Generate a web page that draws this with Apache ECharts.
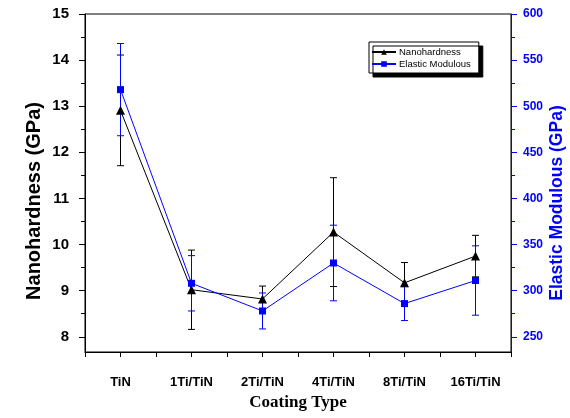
<!DOCTYPE html>
<html>
<head>
<meta charset="utf-8">
<script src="https://cdn.jsdelivr.net/npm/echarts@6/dist/echarts.min.js"></script>
<style>
  html, body { margin: 0; padding: 0; background: #fff; }
  #chart { width: 570px; height: 418px; }
</style>
</head>
<body>
<div id="chart"></div>
<script>
// 数据
const categories = ['TiN', '1Ti/TiN', '2Ti/TiN', '4Ti/TiN', '8Ti/TiN', '16Ti/TiN'];
const hardness = [12.91, 9.02, 8.82, 10.27, 9.17, 9.75];
const hardnessErr = [1.2, 0.86, 0.28, 1.18, 0.44, 0.45];
const modulus = [518, 308, 278, 330, 286, 311];
const modulusErr = [50, 30, 19.5, 41, 18.4, 37.6];

const hardTicks = [8, 9, 10, 11, 12, 13, 14, 15];
const hardMinor = [8.5, 9.5, 10.5, 11.5, 12.5, 13.5, 14.5];
const modTicks = [250, 300, 350, 400, 450, 500, 550, 600];
const modMinor = [275, 325, 375, 425, 475, 525, 575];

const BLUE = '#0000ff';
const SANS = 'Liberation Sans, Arial, sans-serif';

const chart = echarts.init(document.getElementById('chart'));

// 误差棒
const errorBar = (color) => (params, api) => {
  const x = api.value(0);
  const top = api.coord([x, api.value(2)]);
  const bot = api.coord([x, api.value(1)]);
  const w = 3.5;
  const st = { stroke: color, lineWidth: 1 };
  return {
    type: 'group',
    children: [
      { type: 'line', shape: { x1: top[0], y1: top[1], x2: bot[0], y2: bot[1] }, style: st },
      { type: 'line', shape: { x1: top[0] - w, y1: top[1], x2: top[0] + w, y2: top[1] }, style: st },
      { type: 'line', shape: { x1: bot[0] - w, y1: bot[1], x2: bot[0] + w, y2: bot[1] }, style: st },
    ],
  };
};

const hardPts = hardness.map((v, i) => [i, v]);
const modPts = modulus.map((v, i) => [i, v]);
const hardBars = hardness.map((v, i) => [i, v - hardnessErr[i], v + hardnessErr[i]]);
const modBars = modulus.map((v, i) => [i, v - modulusErr[i], v + modulusErr[i]]);

const hardMin = 7.67, hardMax = 15;
const modMin = 233.5, modMax = 600;

const option = {
  animation: false,
  grid: { left: 85, right: 59, top: 14, bottom: 66, show: true, borderColor: '#000', borderWidth: 1 },
  legend: {
    data: ['Nanohardness', 'Elastic Modulous'],
    orient: 'vertical',
    left: 369,
    top: 42,
    itemWidth: 24,
    itemHeight: 7,
    itemGap: 2,
    padding: [5, 8, 4, 2],
    borderColor: '#000',
    borderWidth: 1,
    backgroundColor: '#fff',
    shadowColor: '#000',
    shadowBlur: 0,
    shadowOffsetX: 4,
    shadowOffsetY: 4,
    textStyle: { fontFamily: SANS, fontSize: 9.5, color: '#000', padding: [0, 0, 0, -2] },
  },
  xAxis: {
    type: 'value',
    min: -0.5,
    max: 5.5,
    interval: 0.5,
    name: 'Coating Type',
    nameLocation: 'middle',
    nameGap: 42,
    nameTextStyle: { fontFamily: 'Liberation Serif, Times New Roman, serif', fontWeight: 'bold', fontSize: 17, color: '#000' },
    axisLine: { onZero: false, lineStyle: { color: '#000', width: 1 } },
    axisTick: { length: 5, lineStyle: { color: '#000' } },
    axisLabel: {
      margin: 24,
      fontFamily: SANS,
      fontWeight: 'bold',
      fontSize: 13,
      color: '#000',
      formatter: (v) => (Number.isInteger(v) && categories[v] !== undefined ? categories[v] : ''),
    },
    splitLine: { show: false },
  },
  yAxis: [
    {
      type: 'value', position: 'left', min: hardMin, max: hardMax,
      axisLine: { show: true, onZero: false, lineStyle: { color: '#000', width: 1 } },
      axisTick: { show: true, length: 6, customValues: hardTicks, lineStyle: { color: '#000' } },
      axisLabel: { customValues: hardTicks, margin: 16, fontFamily: SANS, fontWeight: 'bold', fontSize: 15, color: '#000' },
      splitLine: { show: false },
    },
    {
      type: 'value', position: 'right', min: modMin, max: modMax,
      axisLine: { show: true, onZero: false, lineStyle: { color: BLUE, width: 1 } },
      axisTick: { show: true, length: 6, customValues: modTicks, lineStyle: { color: BLUE } },
      axisLabel: { customValues: modTicks, margin: 12, fontFamily: SANS, fontWeight: 'bold', fontSize: 12, color: BLUE },
      splitLine: { show: false },
    },
    // 次刻度
    {
      type: 'value', position: 'left', min: hardMin, max: hardMax,
      axisLine: { show: false, onZero: false },
      axisTick: { show: true, length: 4, customValues: hardMinor, lineStyle: { color: '#000' } },
      axisLabel: { show: false },
      splitLine: { show: false },
    },
    {
      type: 'value', position: 'right', min: modMin, max: modMax,
      axisLine: { show: false, onZero: false },
      axisTick: { show: true, length: 4, customValues: modMinor, lineStyle: { color: BLUE } },
      axisLabel: { show: false },
      splitLine: { show: false },
    },
  ],
  graphic: [
    {
      type: 'text', x: 34, y: 201, rotation: Math.PI / 2,
      style: { text: 'Nanohardness (GPa)', fontFamily: SANS, fontWeight: 'bold', fontSize: 20, fill: '#000', align: 'center', verticalAlign: 'middle' },
    },
    {
      type: 'text', x: 557, y: 203, rotation: Math.PI / 2,
      style: { text: 'Elastic Modulous (GPa)', fontFamily: SANS, fontWeight: 'bold', fontSize: 17.5, fill: BLUE, align: 'center', verticalAlign: 'middle' },
    },
  ],
  series: [
    {
      type: 'custom', name: 'hardErr', yAxisIndex: 0, data: hardBars,
      renderItem: errorBar('#000'), encode: { x: 0, y: [1, 2] }, z: 2,
    },
    {
      type: 'custom', name: 'modErr', yAxisIndex: 1, data: modBars,
      renderItem: errorBar(BLUE), encode: { x: 0, y: [1, 2] }, z: 3,
    },
    {
      name: 'Nanohardness', type: 'line', yAxisIndex: 0, data: hardPts,
      symbol: 'triangle', symbolSize: 9,
      itemStyle: { color: '#000' }, lineStyle: { color: '#000', width: 1 }, z: 4,
    },
    {
      name: 'Elastic Modulous', type: 'line', yAxisIndex: 1, data: modPts,
      symbol: 'rect', symbolSize: 7,
      itemStyle: { color: BLUE }, lineStyle: { color: BLUE, width: 1 }, z: 5,
    },
  ],
};

chart.setOption(option);
window.addEventListener('resize', () => chart.resize());
</script>
</body>
</html>
